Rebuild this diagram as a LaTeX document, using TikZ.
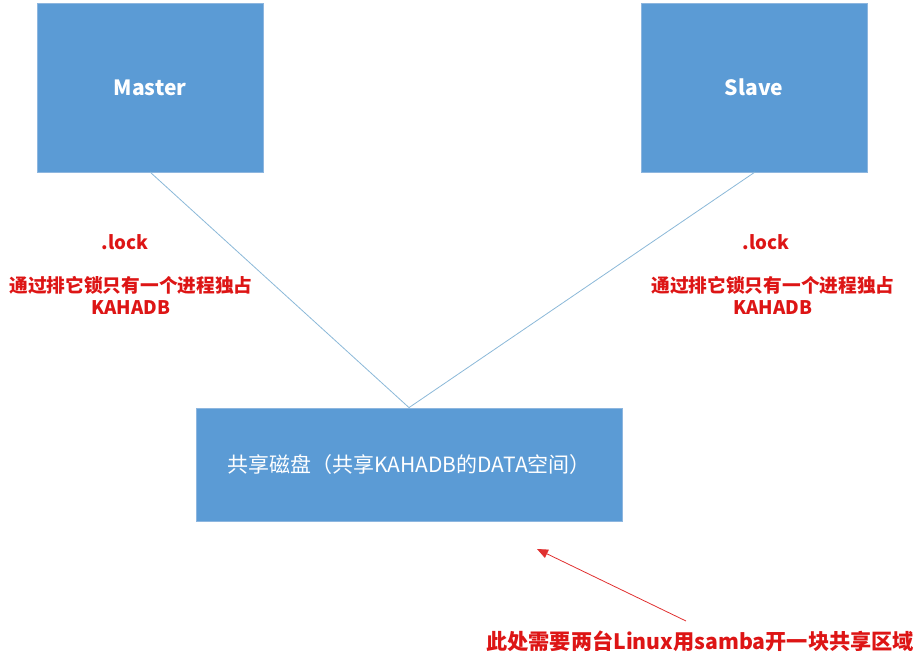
\documentclass[tikz,border=0pt]{standalone}
\usepackage{fontspec}
\setmainfont{Noto Sans CJK SC}
\usetikzlibrary{arrows.meta}
\definecolor{boxblue}{HTML}{5B9BD5}
\definecolor{boxedge}{HTML}{8DB6DF}
\definecolor{linkblue}{HTML}{8BB8D8}
\definecolor{labred}{HTML}{DD1515}
\definecolor{arrred}{HTML}{E03030}
\begin{document}
\begin{tikzpicture}[x=1pt,y=-1pt,
  box/.style={draw=boxedge,line width=0.8pt,fill=boxblue,text=white,inner sep=0pt},
  link/.style={draw=linkblue,line width=0.8pt},
  redlab/.style={text=labred,font=\fontsize{18.7}{22}\selectfont\bfseries,align=center,inner sep=0pt},
  pointer/.style={draw=arrred,line width=0.8pt,-{Triangle[length=11pt,width=9pt]}}]
\useasboundingbox (0,0) rectangle (923,670);
\node[box,minimum width=226pt,minimum height=169pt,font=\fontsize{21}{24}\selectfont\bfseries] (master) at (150,87.5) {Master};
\node[box,minimum width=226pt,minimum height=169pt,font=\fontsize{21}{24}\selectfont\bfseries] (slave) at (754,87.5) {Slave};
\node[box,minimum width=426pt,minimum height=113pt,font=\fontsize{21}{24}\selectfont] (disk) at (409,464.5) {共享磁盘（共享KAHADB的DATA空间）};
\coordinate (mb) at (150,172);
\coordinate (sb) at (755,172);
\draw[link] (mb) -- (disk.north);
\draw[link] (sb) -- (disk.north);
\node[redlab] (lockL) at (125,242) {.lock};
\node[redlab] (descL) at (131,295) {通过排它锁只有一个进程独占\\KAHADB};
\node[redlab] (lockR) at (766,242) {.lock};
\node[redlab] (descR) at (773,295) {通过排它锁只有一个进程独占\\KAHADB};
\node[text=labred,font=\fontsize{21.2}{24}\selectfont\bfseries,inner sep=0pt,anchor=west] (note) at (486,641) {此处需要两台Linux用samba开一块共享区域};
\coordinate (tail) at (686,621);
\coordinate (tip) at (537,549);
\draw[pointer] (tail) -- (tip);
\end{tikzpicture}
\end{document}
